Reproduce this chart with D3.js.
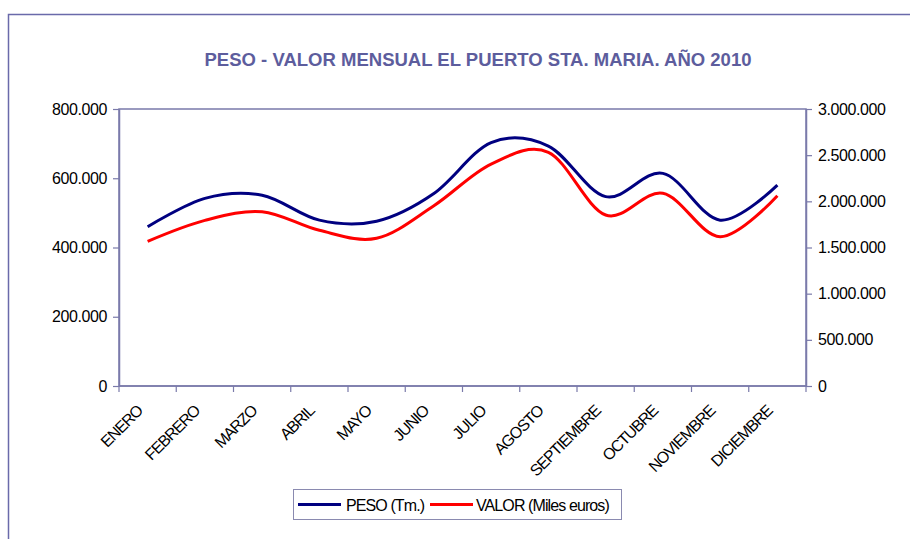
<!DOCTYPE html>
<html>
<head>
<meta charset="utf-8">
<script src="https://cdn.jsdelivr.net/npm/d3@7"></script>
<style>
  html, body { margin: 0; padding: 0; background: #fff; }
  svg { display: block; font-family: "Liberation Sans", Arial, sans-serif; }
</style>
</head>
<body>
<div id="chart"></div>
<script>
const categories = ["ENERO","FEBRERO","MARZO","ABRIL","MAYO","JUNIO","JULIO","AGOSTO","SEPTIEMBRE","OCTUBRE","NOVIEMBRE","DICIEMBRE"];
const peso = [460000, 542000, 551000, 479000, 476000, 556000, 703000, 693000, 547000, 614000, 479000, 580000];
const valor = [1567000, 1794000, 1888000, 1686000, 1600000, 1953000, 2404000, 2531000, 1852000, 2087000, 1617000, 2061000];
const leftTicks = [0, 200000, 400000, 600000, 800000];
const rightTicks = [0, 500000, 1000000, 1500000, 2000000, 2500000, 3000000];
const title = "PESO - VALOR MENSUAL EL PUERTO STA. MARIA. AÑO 2010";
const seriesNames = ["PESO (Tm.)", "VALOR (Miles euros)"];

const W = 910, H = 539;
const plot = {left: 119, right: 806, top: 109, bottom: 386};
const axisColor = "#7a7aaa";
const fmt = v => d3.format(",")(v).replace(/,/g, ".");

const svg = d3.select("#chart").append("svg").attr("width", W).attr("height", H);

// outer frame (top and left)
svg.append("path").attr("d", `M8.5,${H} V14.5 H${W}`).attr("fill", "none")
  .attr("stroke", "#6a6aaa").attr("stroke-width", 1.5);

// title
svg.append("text").attr("x", 478).attr("y", 66).attr("text-anchor", "middle")
  .attr("fill", "#5d5d9d").attr("font-weight", "bold").attr("font-size", 17.5)
  .attr("textLength", 547).attr("lengthAdjust", "spacingAndGlyphs")
  .text(title);

const x = d3.scaleBand().domain(categories).range([plot.left, plot.right]);
const yL = d3.scaleLinear().domain([0, 800000]).range([plot.bottom, plot.top]);
const yR = d3.scaleLinear().domain([0, 3000000]).range([plot.bottom, plot.top]);

// plot area border
svg.append("rect").attr("x", plot.left).attr("y", plot.top)
  .attr("width", plot.right - plot.left).attr("height", plot.bottom - plot.top)
  .attr("fill", "none").attr("stroke", axisColor).attr("stroke-width", 1.5);

// left axis
const gL = svg.append("g").attr("transform", `translate(${plot.left},0)`)
  .call(d3.axisLeft(yL).tickValues(leftTicks).tickFormat(fmt).tickSize(6).tickSizeOuter(0));
// right axis
const gR = svg.append("g").attr("transform", `translate(${plot.right},0)`)
  .call(d3.axisRight(yR).tickValues(rightTicks).tickFormat(fmt).tickSize(6).tickSizeOuter(0));
[gL, gR].forEach(g => {
  g.select(".domain").attr("stroke", axisColor).attr("stroke-width", 1.5);
  g.selectAll(".tick line").attr("stroke", axisColor).attr("stroke-width", 1.2);
  g.selectAll(".tick text").attr("fill", "#000").attr("font-size", 16)
    .attr("letter-spacing", -0.4).attr("font-family", "Liberation Sans, Arial, sans-serif");
});
gL.selectAll(".tick text").attr("x", -12);
gR.selectAll(".tick text").attr("x", 12);

// bottom axis: ticks at category boundaries
const gB = svg.append("g").attr("transform", `translate(0,${plot.bottom})`);
gB.append("line").attr("x1", plot.left).attr("x2", plot.right)
  .attr("stroke", axisColor).attr("stroke-width", 1.5);
const bounds = categories.map(c => x(c)).concat([plot.right]);
gB.selectAll("line.tk").data(bounds).join("line").attr("class", "tk")
  .attr("x1", d => d).attr("x2", d => d).attr("y1", 0).attr("y2", 6)
  .attr("stroke", axisColor).attr("stroke-width", 1.2);
gB.selectAll("text").data(categories).join("text")
  .attr("transform", d => `translate(${x(d) + x.bandwidth() / 2 - 4},${26}) rotate(-45)`)
  .attr("text-anchor", "end").attr("font-size", 16).attr("letter-spacing", -1.1)
  .attr("fill", "#000").text(d => d);

// lines
const cx = d => x(d) + x.bandwidth() / 2;
const lineL = d3.line().x((d, i) => cx(categories[i])).y(d => yL(d)).curve(d3.curveCatmullRom.alpha(0));
const lineR = d3.line().x((d, i) => cx(categories[i])).y(d => yR(d)).curve(d3.curveCatmullRom.alpha(0));
svg.append("path").datum(valor).attr("d", lineR).attr("fill", "none")
  .attr("stroke", "#ff0000").attr("stroke-width", 3).attr("stroke-linejoin", "round");
svg.append("path").datum(peso).attr("d", lineL).attr("fill", "none")
  .attr("stroke", "#000080").attr("stroke-width", 3).attr("stroke-linejoin", "round");

// legend
const lg = svg.append("g");
lg.append("rect").attr("x", 293.5).attr("y", 489.5).attr("width", 328).attr("height", 30)
  .attr("fill", "#fff").attr("stroke", "#8a8ab0").attr("stroke-width", 1);
const legendItems = [
  {name: seriesNames[0], color: "#000080", x0: 298, tx: 346},
  {name: seriesNames[1], color: "#ff0000", x0: 430, tx: 476}
];
legendItems.forEach(it => {
  lg.append("line").attr("x1", it.x0).attr("x2", it.x0 + 43).attr("y1", 504.5).attr("y2", 504.5)
    .attr("stroke", it.color).attr("stroke-width", 3);
  lg.append("text").attr("x", it.tx).attr("y", 510.5).attr("font-size", 16)
    .attr("letter-spacing", -0.9).attr("fill", "#000").text(it.name);
});
</script>
</body>
</html>
